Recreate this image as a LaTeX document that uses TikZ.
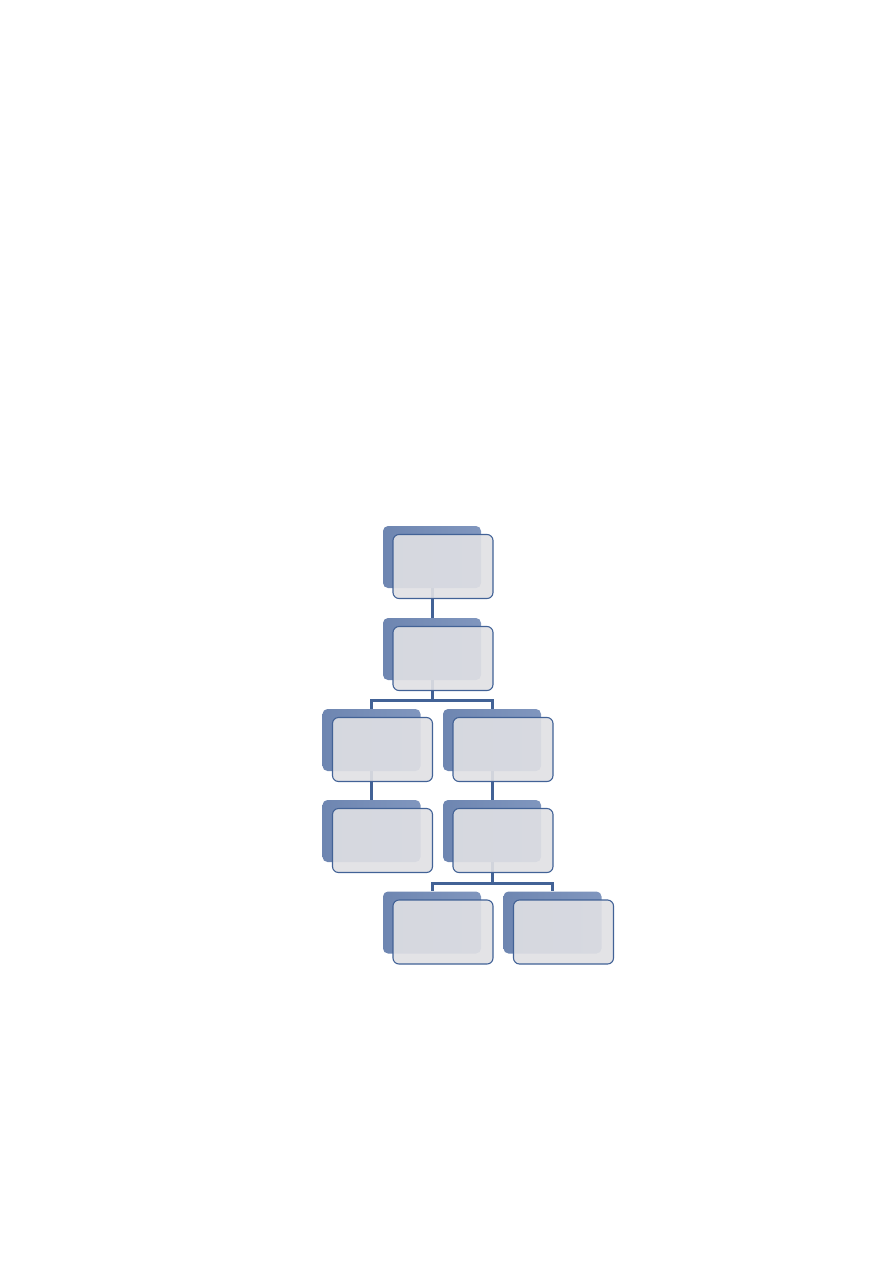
\documentclass[tikz,border=0pt]{standalone}
\usepackage{tikz}
\usetikzlibrary{calc,positioning}
\definecolor{backblue}{RGB}{128,150,190}
\definecolor{backdark}{RGB}{110,134,177}
\definecolor{edgeblue}{RGB}{66,98,150}
\definecolor{frontgray}{RGB}{224,224,228}
\tikzset{
	backbox/.style={rectangle, rounded corners=5pt, minimum width=98pt, minimum height=62pt, inner sep=0pt, left color=backdark, right color=backblue},
	frontbox/.style={rectangle, rounded corners=6pt, minimum width=100pt, minimum height=64pt, inner sep=0pt, draw=edgeblue, line width=1.1pt, fill=frontgray, fill opacity=0.91},
	link/.style={draw=edgeblue, line width=3pt}
}

\begin{document}
\begin{tikzpicture}[x=1pt, y=-1pt]
		%%%%% START %%%%%
		
		\useasboundingbox (0, 0) rectangle (893, 1263);
		
		\node[backbox] (b1) at (432, 557) {};
		\node[backbox] (b2) at (432, 649) {};
		\node[backbox] (b3) at (371.5, 740) {};
		\node[backbox] (b4) at (492, 740) {};
		\node[backbox] (b5) at (371.5, 831) {};
		\node[backbox] (b6) at (492, 831) {};
		\node[backbox] (b7) at (432, 922.5) {};
		\node[backbox] (b8) at (552.5, 922.5) {};
		
		\coordinate (j1) at ([yshift=-20pt]b2.south);
		\coordinate (j2) at ([yshift=-21pt]b6.south);
		
		\draw[link] (b1.south) -- (b2.north);
		\draw[link] (b2.south) -- (j1) -| (b3.north);
		\draw[link] (j1) -| (b4.north);
		\draw[link] (b3.south) -- (b5.north);
		\draw[link] (b4.south) -- (b6.north);
		\draw[link] (b6.south) -- (j2) -| (b7.north);
		\draw[link] (j2) -| (b8.north);
		
		\foreach \i in {1,...,8}
			\node[frontbox] (f\i) at ([shift={(11, 9.5)}]b\i) {};
		
		%%%%% END %%%%%
	\end{tikzpicture}
\end{document}
